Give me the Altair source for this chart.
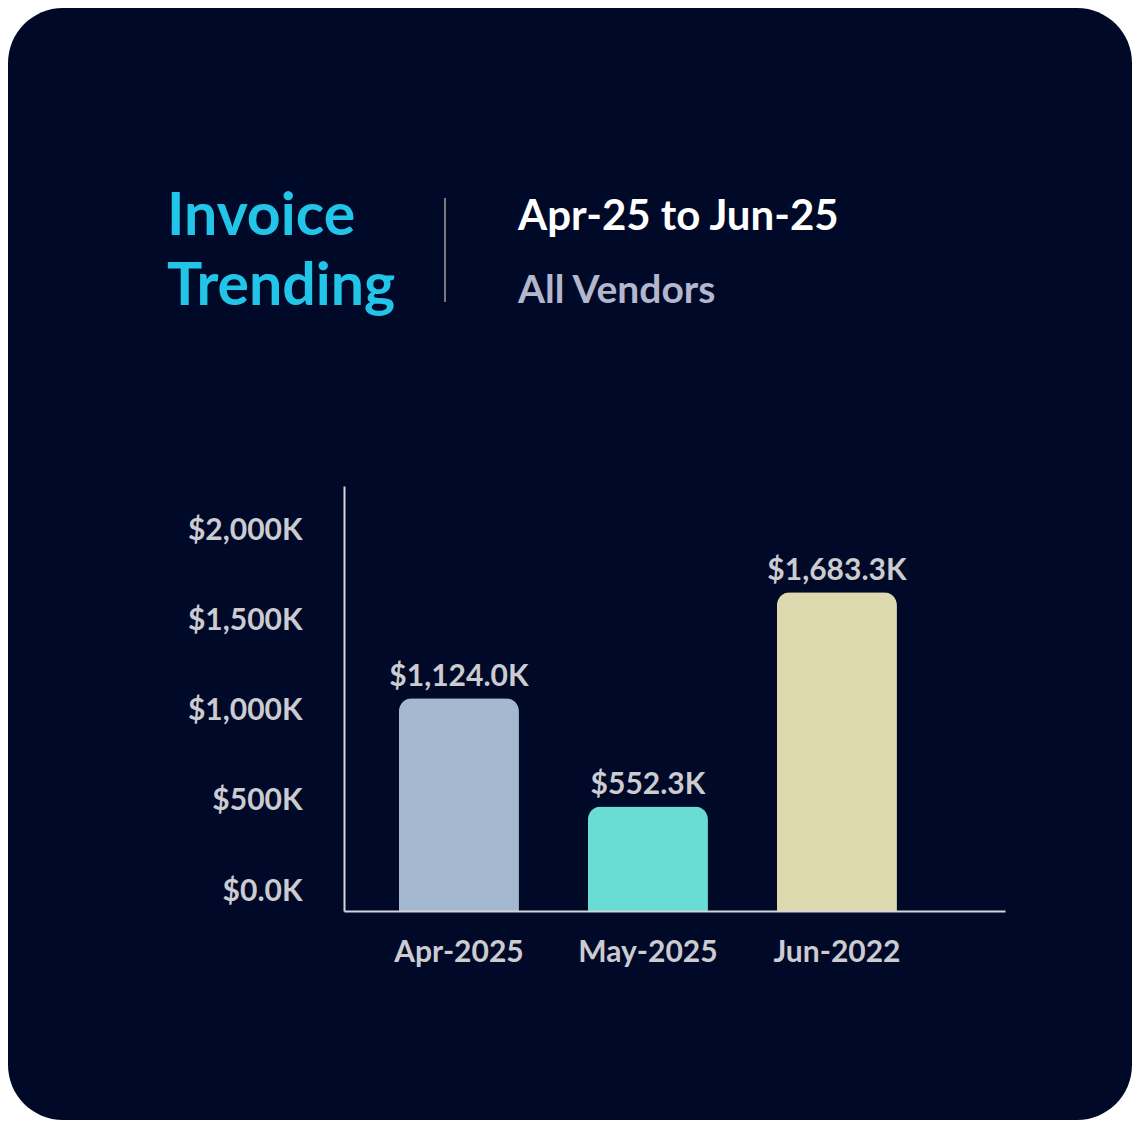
import altair as alt
import pandas as pd

# ---- data ----
months = ["Apr-2025", "May-2025", "Jun-2022"]
values = [1124.0, 552.3, 1683.3]
bar_colors = ["#A4B9D0", "#69DCD4", "#DDD9AE"]
y_ticks = [0, 500, 1000, 1500, 2000]
title_lines = ["Invoice", "Trending"]
period_text = ["Apr-25 to Jun-25"]
scope_text = ["All Vendors"]

BG = "#000A28"
FONT = "Lato"
LABEL_COLOR = "#CBCBD0"

W, H = 661, 425
PAD = {"left": 336, "top": 478, "right": 127, "bottom": 209}

df = pd.DataFrame({"Month": months, "Value": values})
one = pd.DataFrame({"k": [0]})

x_enc = alt.X(
    "Month:N",
    sort=months,
    scale=alt.Scale(paddingInner=0.365, paddingOuter=0.4312, align=0.337),
    axis=alt.Axis(
        title=None, ticks=False, grid=False, domainColor="#D4D4DA", domainWidth=2,
        labelFont=FONT, labelFontSize=30, labelFontWeight=700, labelColor=LABEL_COLOR,
        labelBaseline="middle", labelPadding=41, labelAngle=0, zindex=1,
    ),
)
y_enc = alt.Y(
    "Value:Q",
    scale=alt.Scale(domain=[0, 2245], nice=False, zero=True),
    axis=alt.Axis(
        title=None, ticks=False, grid=False, values=y_ticks,
        domainColor="#D4D4DA", domainWidth=2,
        labelFont=FONT, labelFontSize=30, labelFontWeight=700, labelColor=LABEL_COLOR,
        labelAlign="right", labelBaseline="middle", labelPadding=42,
        labelOffset={"expr": "-20 + datum.value * 0.0093"},
        labelExpr="datum.value == 0 ? '$0.0K' : '$' + format(datum.value, ',') + 'K'",
        zindex=1,
    ),
)

background = alt.Chart(one).mark_rect(color=BG, cornerRadius=55).encode(
    x=alt.value(-PAD["left"]), x2=alt.value(W + PAD["right"]),
    y=alt.value(-PAD["top"]), y2=alt.value(H + PAD["bottom"]),
)

bars = alt.Chart(df).mark_bar(cornerRadiusTopLeft=13, cornerRadiusTopRight=13).encode(
    x=x_enc,
    y=y_enc,
    color=alt.Color("Month:N", sort=months,
                    scale=alt.Scale(domain=months, range=bar_colors), legend=None),
)

value_labels = alt.Chart(df).transform_calculate(
    label="'$' + format(datum.Value, ',.1f') + 'K'"
).mark_text(
    font=FONT, fontSize=30, fontWeight=700, color=LABEL_COLOR,
    baseline="alphabetic", align="center", dy=-12,
).encode(
    x=alt.X("Month:N", sort=months),
    y="Value:Q",
    text="label:N",
)

t1 = alt.Chart(pd.DataFrame({"t": [title_lines[0]]})).mark_text(
    font=FONT, fontSize=59, fontWeight=700, color="#22C4E8", align="left", baseline="alphabetic",
).encode(x=alt.value(-177), y=alt.value(-251), text="t:N")
t2 = alt.Chart(pd.DataFrame({"t": [title_lines[1]]})).mark_text(
    font=FONT, fontSize=59, fontWeight=700, color="#22C4E8", align="left", baseline="alphabetic",
).encode(x=alt.value(-177), y=alt.value(-181), text="t:N")

divider = alt.Chart(one).mark_rule(color="#7A7A7A", strokeWidth=2).encode(
    x=alt.value(445 - 8 - PAD["left"]),
    y=alt.value(198 - 8 - PAD["top"]),
    y2=alt.value(302 - 8 - PAD["top"]),
)

t3 = alt.Chart(pd.DataFrame({"t": period_text})).mark_text(
    font=FONT, fontSize=42, fontWeight=700, color="#FFFFFF", align="left", baseline="alphabetic",
).encode(x=alt.value(518 - 8 - PAD["left"]), y=alt.value(230 - 8 - PAD["top"]), text="t:N")
t4 = alt.Chart(pd.DataFrame({"t": scope_text})).mark_text(
    font=FONT, fontSize=39, fontWeight=700, color="#B3B6CC", align="left", baseline="alphabetic",
).encode(x=alt.value(518 - 8 - PAD["left"]), y=alt.value(303 - 8 - PAD["top"]), text="t:N")

chart = alt.layer(background, bars, value_labels, t1, t2, divider, t3, t4).properties(
    width=W, height=H,
    autosize=alt.AutoSizeParams(type="none"),
    padding=PAD,
    background="white",
).configure_view(strokeWidth=0)

chart.save("out.html", embed_options={"renderer": "svg", "actions": False})
